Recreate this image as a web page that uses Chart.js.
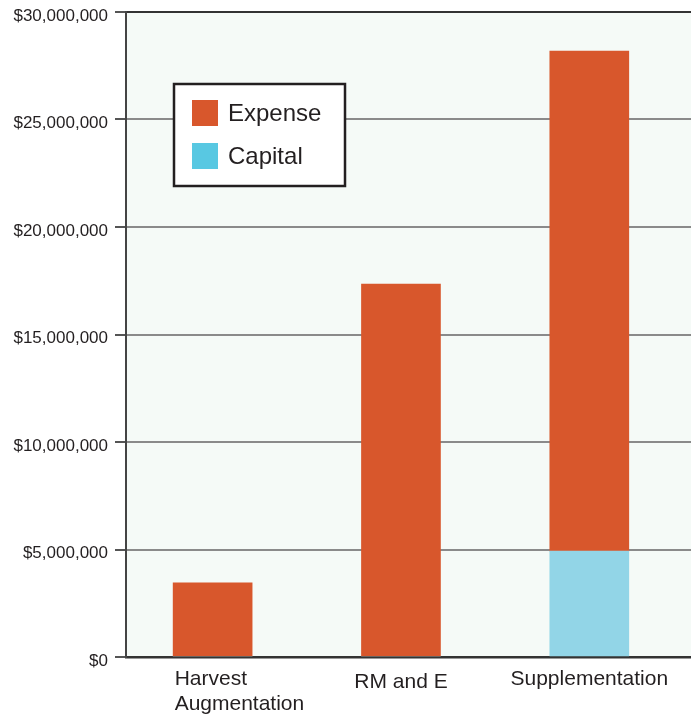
<!DOCTYPE html>
<html>
<head>
<meta charset="utf-8">
<script src="https://cdn.jsdelivr.net/npm/chart.js@4"></script>
<style>
  html, body { margin: 0; padding: 0; background: #ffffff; }
  #wrap { width: 691px; height: 714px; }
</style>
</head>
<body>
<div id="wrap"><canvas id="costChart" width="691" height="714"></canvas></div>
<script>
// Datos del gráfico
const categories = [['Harvest', 'Augmentation'], ['RM and E'], ['Supplementation']];
const expenseValues = [3450000, 17350000, 23250000];
const capitalValues = [0, 0, 4930000];
const yTicks = [0, 5000000, 10000000, 15000000, 20000000, 25000000, 30000000];

const expenseColor = '#d8572c';
const capitalColor = '#92d5e7';
const capitalLegendColor = '#58c8e2';

// Fondo del área de trazado
const plotBackground = {
    id: 'plotBackground',
    beforeDraw(chart) {
        const { ctx, chartArea } = chart;
        ctx.save();
        ctx.fillStyle = '#f5faf7';
        ctx.fillRect(chartArea.left, chartArea.top, chartArea.right - chartArea.left, chartArea.bottom - chartArea.top);
        ctx.restore();
    }
};

// Etiquetas del eje X (la primera alineada a la izquierda)
const xLabels = {
    id: 'xLabels',
    afterDraw(chart) {
        const { ctx } = chart;
        const xScale = chart.scales.x;
        ctx.save();
        ctx.fillStyle = '#231f20';
        ctx.font = '21px "Liberation Sans", Arial, sans-serif';
        ctx.textBaseline = 'alphabetic';
        categories.forEach((lines, i) => {
            const cx = xScale.getPixelForValue(i);
            let x = cx;
            let baseY = 685;
            if (i === 0) {
                ctx.textAlign = 'left';
                x = cx - 38;
            } else {
                ctx.textAlign = 'center';
                if (i === 1) baseY = 688;
            }
            lines.forEach((line, k) => {
                ctx.fillText(line, x, baseY + k * 25);
            });
        });
        ctx.restore();
    }
};

// Leyenda dibujada dentro del área
const boxLegend = {
    id: 'boxLegend',
    afterDraw(chart) {
        const { ctx } = chart;
        ctx.save();
        ctx.fillStyle = '#ffffff';
        ctx.fillRect(174, 84, 171, 102);
        ctx.strokeStyle = '#231f20';
        ctx.lineWidth = 2.5;
        ctx.strokeRect(174, 84, 171, 102);
        const items = [
            { text: 'Expense', color: expenseColor, y: 100 },
            { text: 'Capital', color: capitalLegendColor, y: 143 }
        ];
        ctx.font = '24px "Liberation Sans", Arial, sans-serif';
        ctx.textAlign = 'left';
        ctx.textBaseline = 'middle';
        items.forEach(item => {
            ctx.fillStyle = item.color;
            ctx.fillRect(192, item.y, 26, 26);
            ctx.fillStyle = '#231f20';
            ctx.fillText(item.text, 228, item.y + 14);
        });
        ctx.restore();
    }
};

const ctx = document.getElementById('costChart').getContext('2d');
const chart = new Chart(ctx, {
    type: 'bar',
    data: {
        datasets: [
            {
                label: 'Capital',
                data: capitalValues.map((v, i) => ({ x: i, y: v })),
                backgroundColor: capitalColor,
                borderWidth: 0,
                barThickness: 79
            },
            {
                label: 'Expense',
                data: expenseValues.map((v, i) => ({ x: i, y: v })),
                backgroundColor: expenseColor,
                borderWidth: 0,
                barThickness: 79
            }
        ]
    },
    options: {
        responsive: false,
        animation: false,
        layout: { padding: { top: 12, right: 0, left: 0, bottom: 0 } },
        plugins: {
            legend: { display: false },
            tooltip: { enabled: false }
        },
        scales: {
            x: {
                type: 'linear',
                stacked: true,
                offset: false,
                min: -0.46,
                max: 2.54,
                grid: { display: false, drawTicks: false },
                border: { color: '#333333', width: 2.5 },
                ticks: { display: false },
                afterFit(scale) { scale.height = 57; }
            },
            y: {
                stacked: true,
                min: 0,
                max: 30000000,
                afterBuildTicks(scale) {
                    scale.ticks = yTicks.map(v => ({ value: v }));
                },
                afterFit(scale) {
                    scale.width = 126;
                    scale.paddingTop = 0;
                    scale.paddingBottom = 0;
                },
                grid: {
                    color: c => (c.tick && c.tick.value === 30000000) ? '#333333' : '#8a8a8a',
                    lineWidth: 2,
                    tickLength: 11,
                    tickColor: '#555555'
                },
                border: { color: '#444444', width: 2 },
                ticks: {
                    color: '#231f20',
                    padding: 7,
                    labelOffset: 4,
                    font: { family: '"Liberation Sans", Arial, sans-serif', size: 17 },
                    callback: v => '$' + Number(v).toLocaleString('en-US')
                }
            }
        }
    },
    plugins: [plotBackground, xLabels, boxLegend]
});
</script>
</body>
</html>
